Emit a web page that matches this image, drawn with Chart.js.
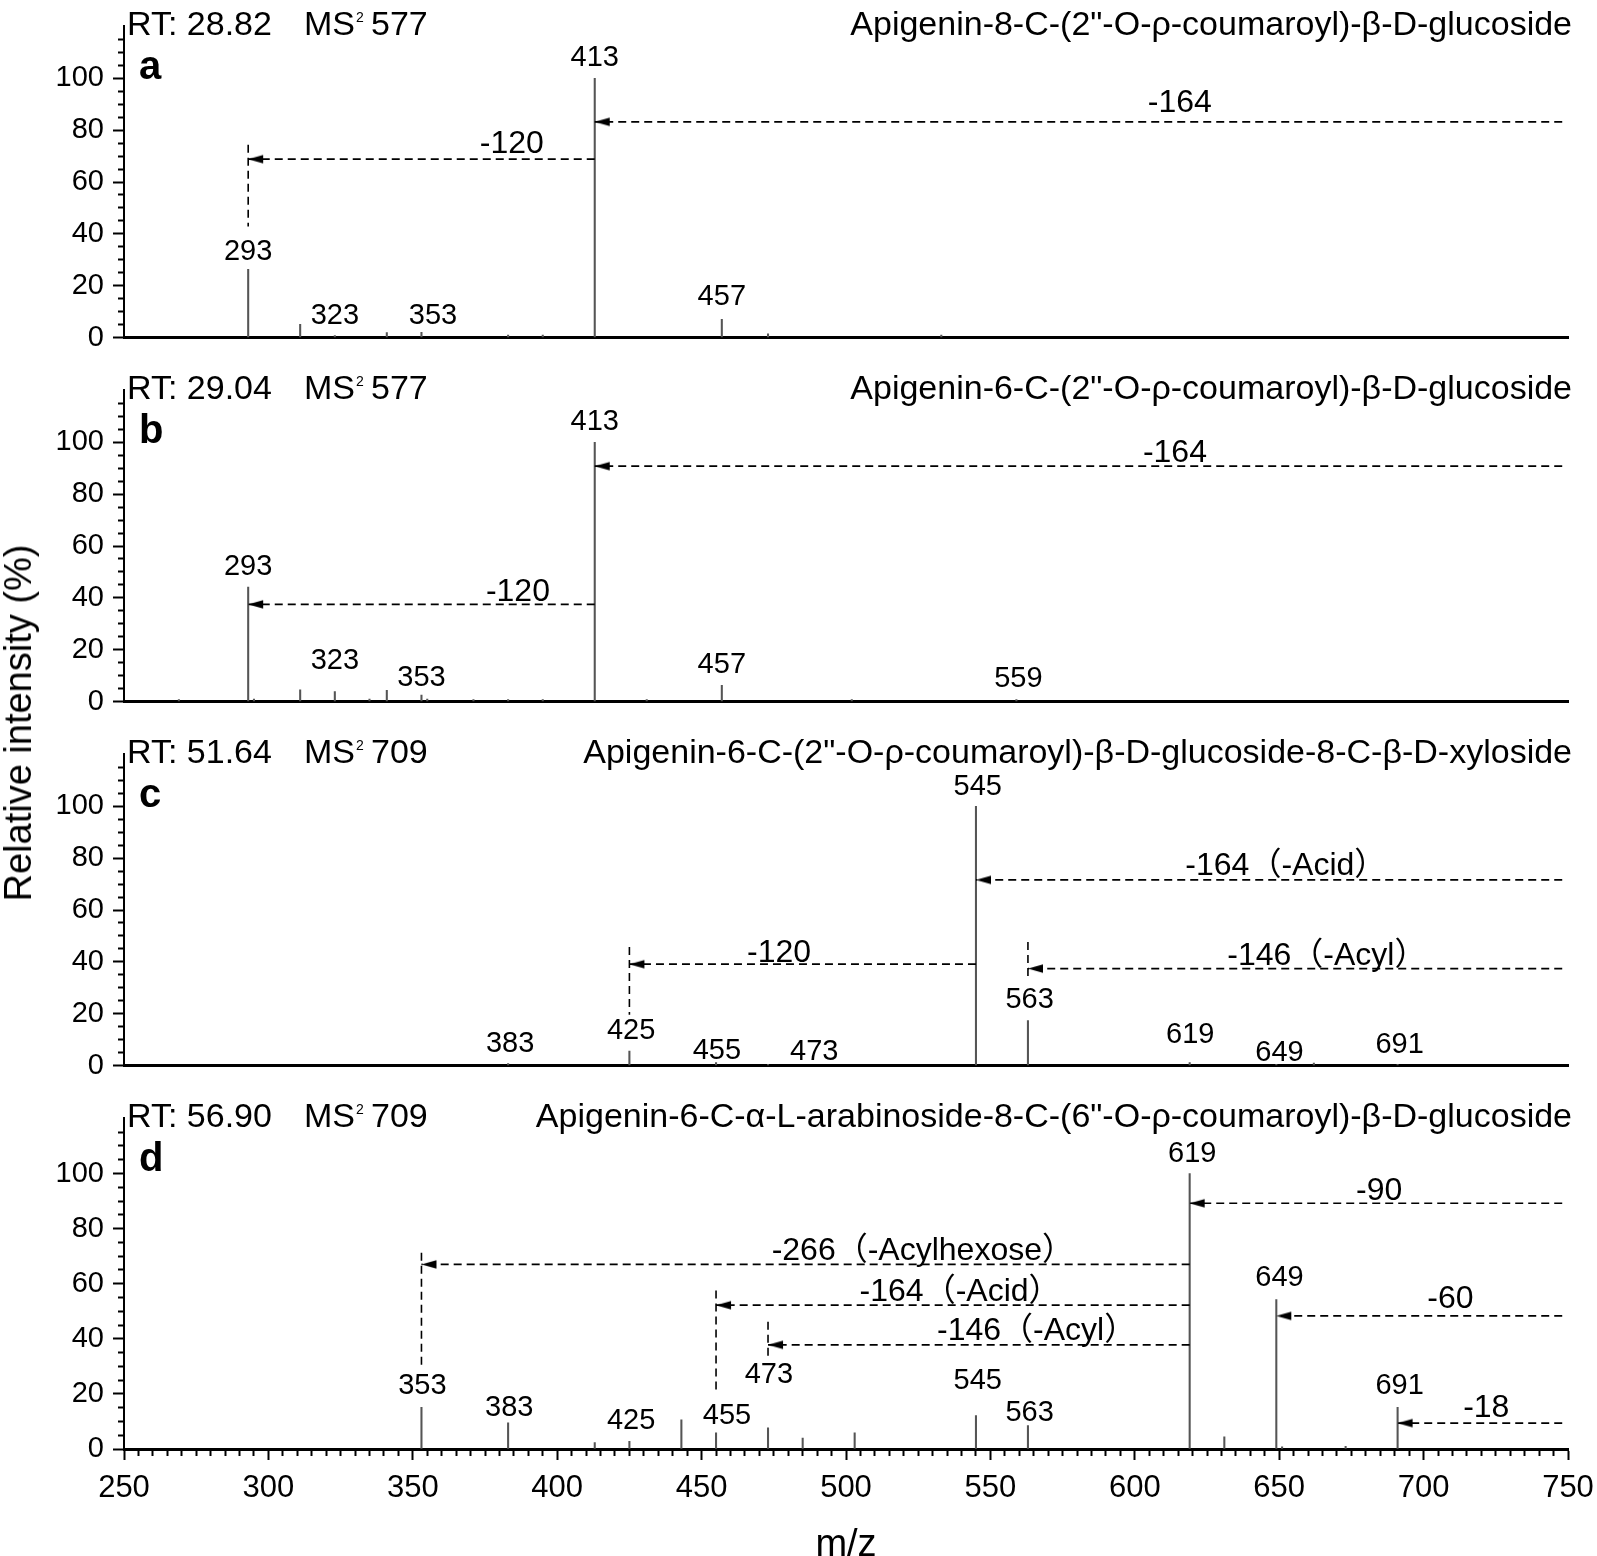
<!DOCTYPE html>
<html><head><meta charset="utf-8">
<script src="https://cdn.jsdelivr.net/npm/chart.js@4.4.1/dist/chart.umd.min.js"></script>
<style>
html,body{margin:0;padding:0;background:#fff;}
#wrap{position:relative;width:1597px;height:1556px;overflow:hidden;background:#fff;}
#wrap canvas{position:absolute;left:0;}
#ytitle{position:absolute;left:18px;top:723px;transform:translate(-50%,-50%) rotate(-90deg);font:38px "Liberation Sans",Arial,sans-serif;white-space:nowrap;line-height:1;color:#000;}
</style></head><body>
<div id="wrap">
<canvas id="pa" width="1597" height="364" style="top:0px"></canvas>
<canvas id="pb" width="1597" height="364" style="top:364px"></canvas>
<canvas id="pc" width="1597" height="364" style="top:728px"></canvas>
<canvas id="pd" width="1597" height="464" style="top:1092px"></canvas>
<div id="ytitle">Relative intensity (%)</div>
</div>
<script>
// ---------- shared texts / ticks ----------
const xTickValues = [250,300,350,400,450,500,550,600,650,700,750];
const yTickValues = [0,20,40,60,80,100];
const panelLetters = ['a','b','c','d'];
const retentionTimes = ['28.82','29.04','51.64','56.90'];
const precursorIons = ['577','577','709','709'];
const compoundNames = [
  'Apigenin-8-C-(2"-O-ρ-coumaroyl)-β-D-glucoside',
  'Apigenin-6-C-(2"-O-ρ-coumaroyl)-β-D-glucoside',
  'Apigenin-6-C-(2"-O-ρ-coumaroyl)-β-D-glucoside-8-C-β-D-xyloside',
  'Apigenin-6-C-α-L-arabinoside-8-C-(6"-O-ρ-coumaroyl)-β-D-glucoside'
];
const xAxisTitle = 'm/z';

// ---------- panel a ----------
const mzA  = [293, 311, 323, 341, 353, 383, 395, 413, 457, 473, 533];
const intA = [26.3, 5.1, 0.8, 1.9, 2.0, 1.0, 1.0, 100, 7.0, 1.5, 1.0];
const peakTextA = ['413','293','323','353','457'];
const peakTextMzA = [413, 293, 323, 357, 457];
const peakTextIntA = [104.8, 29.9, 5.4, 5.4, 12.6];
const lossTextA = ['-164','-120'];
const lossFromA = [748, 413];
const lossToA = [413, 293];
const lossLevelA = [83.2, 68.8];
const lossTextMzA = [615.6, 384.3];
const lossTextIntA = [86.8, 71.3];
const guideMzA = [293];
const guideLowA = [42.8];
const guideHighA = [74.4];

// ---------- panel b ----------
const mzB  = [269, 293, 295, 311, 323, 335, 341, 353, 355, 371, 383, 395, 413, 431, 457, 502, 559];
const intB = [0.8, 44.2, 1.0, 4.5, 3.9, 1.0, 4.3, 2.5, 1.0, 0.8, 0.8, 0.8, 100, 0.8, 6.3, 0.8, 0.8];
const peakTextB = ['413','293','323','353','457','559'];
const peakTextMzB = [413, 293, 323, 353, 457, 559.7];
const peakTextIntB = [104.8, 49.0, 12.5, 5.9, 11.0, 5.7];
const lossTextB = ['-164','-120'];
const lossFromB = [748, 413];
const lossToB = [413, 293];
const lossLevelB = [90.8, 37.5];
const lossTextMzB = [613.9, 386.4];
const lossTextIntB = [92.3, 38.9];
const guideMzB = [];
const guideLowB = [];
const guideHighB = [];

// ---------- panel c ----------
const mzC  = [383, 425, 455, 473, 545, 563, 619, 649, 662, 691];
const intC = [0.8, 5.6, 1.2, 0.5, 100, 17.4, 1.2, 0.5, 1.0, 0.5];
const peakTextC = ['545','563','619','649','691','473','455','425','383'];
const peakTextMzC = [545.6, 563.6, 619.2, 650.1, 691.7, 489, 455.3, 425.6, 383.7];
const peakTextIntC = [104.5, 22.2, 8.9, 1.8, 4.7, 2.0, 2.4, 10.1, 5.3];
const lossTextC = ['-164（-Acid）','-146（-Acyl）','-120'];
const lossFromC = [748, 748, 545];
const lossToC = [545, 563, 425];
const lossLevelC = [71.6, 37.4, 39.1];
const lossTextMzC = [652.3, 666.5, 476.8];
const lossTextIntC = [73.6, 38.6, 39.9];
const guideMzC = [425, 563];
const guideLowC = [19.6, 32.6];
const guideHighC = [45.7, 47.7];

// ---------- panel d ----------
const mzD  = [353, 383, 413, 425, 443, 455, 473, 485, 503, 545, 563, 619, 631, 649, 651, 673, 691];
const intD = [15.1, 9.5, 2.3, 2.8, 10.6, 5.9, 7.7, 4.0, 5.9, 12.1, 8.5, 100, 4.4, 54.2, 0.8, 1.0, 15.1];
const peakTextD = ['619','649','691','545','563','353','383','425','455','473'];
const peakTextMzD = [619.9, 650.1, 691.7, 545.6, 563.6, 353.3, 383.4, 425.6, 458.8, 473.3];
const peakTextIntD = [104.1, 59.0, 19.8, 21.6, 10.3, 20.1, 12.1, 7.4, 9.2, 24.0];
const lossTextD = ['-90','-266（-Acylhexose）','-164（-Acid）','-146（-Acyl）','-60','-18'];
const lossFromD = [748, 619, 619, 619, 748, 748];
const lossToD = [619, 353, 455, 473, 649, 691];
const lossLevelD = [89.2, 67.0, 52.2, 37.8, 48.3, 9.4];
const lossTextMzD = [684.6, 526.6, 539.5, 566.0, 709.3, 721.7];
const lossTextIntD = [90.5, 68.5, 53.7, 39.4, 51.3, 11.5];
const guideMzD = [353, 455, 473];
const guideLowD = [29.9, 21.0, 33.5];
const guideHighD = [71.2, 57.5, 46.2];

// ---------- styling / drawing ----------
const FONT = '"Liberation Sans", Arial, "Noto Sans CJK SC", sans-serif';
Chart.defaults.font.family = FONT;
Chart.defaults.color = '#000';

const arrowHead = (() => {
  const c = document.createElement('canvas');
  c.width = 34; c.height = 11;
  const g = c.getContext('2d');
  g.fillStyle = '#000';
  g.beginPath(); g.moveTo(17, 5.5); g.lineTo(32, 1.2); g.lineTo(32, 9.8); g.closePath(); g.fill();
  return c;
})();

const panelTextPlugin = {
  id: 'panelText',
  afterDatasetsDraw(chart, args, o) {
    const {ctx, chartArea: ca, scales: {x, y}} = chart;
    ctx.save();
    ctx.fillStyle = '#000';
    ctx.textBaseline = 'alphabetic';
    ctx.textAlign = 'center';
    ctx.font = '29px ' + FONT;
    o.peaks.forEach(p => ctx.fillText(p.text, x.getPixelForValue(p.x), y.getPixelForValue(p.y)));
    ctx.font = '32px ' + FONT;
    o.losses.forEach(p => ctx.fillText(p.text, x.getPixelForValue(p.x), y.getPixelForValue(p.y)));
    const base = ca.top + 9;
    ctx.textAlign = 'left';
    ctx.font = '34px ' + FONT;
    ctx.fillText('RT: ' + o.rt, ca.left + 3, base);
    ctx.fillText('MS', ca.left + 180, base);
    const msW = ctx.measureText('MS').width;
    ctx.font = '14px ' + FONT;
    ctx.fillText('2', ca.left + 180 + msW + 1, base - 13);
    ctx.font = '34px ' + FONT;
    ctx.fillText(o.precursor, ca.left + 247, base);
    ctx.textAlign = 'right';
    ctx.fillText(o.compound, ca.right + 4, base);
    ctx.textAlign = 'left';
    ctx.font = 'bold 40px ' + FONT;
    ctx.fillText(o.letter, ca.left + 15, ca.top + 53);
    ctx.restore();
  }
};

function buildPanel(id, idx, mz, inten, pText, pMz, pInt, lText, lFrom, lTo, lLevel, lMz, lInt, gMz, gLow, gHigh, isLast) {
  const datasets = [{
    type: 'bar',
    data: mz.map((m, i) => ({x: m, y: inten[i]})),
    backgroundColor: '#555',
    borderWidth: 0,
    barThickness: 1.4,
    order: 2
  }];
  lFrom.forEach((f, i) => datasets.push({
    type: 'line',
    data: [{x: f, y: lLevel[i]}, {x: lTo[i], y: lLevel[i]}],
    borderColor: '#000', borderWidth: 1.7, borderDash: [8, 5],
    pointRadius: [0, 6], pointStyle: arrowHead, pointHoverRadius: 0,
    fill: false, tension: 0, order: 1
  }));
  gMz.forEach((g, i) => datasets.push({
    type: 'line',
    data: [{x: g, y: gHigh[i]}, {x: g, y: gLow[i]}],
    borderColor: '#000', borderWidth: 1.6, borderDash: [8, 5],
    pointRadius: 0, fill: false, tension: 0, order: 1
  }));

  const xScale = {
    type: 'linear', min: xTickValues[0], max: xTickValues[xTickValues.length - 1],
    offset: false,
    border: {display: true, width: 3, color: '#000'},
    afterFit(s) { s.height = isLast ? 107 : 7; s.paddingLeft = 0; s.paddingRight = 0; }
  };
  if (isLast) {
    Object.assign(xScale, {
      ticks: {stepSize: 5, autoSkip: false, maxRotation: 0, minRotation: 0, padding: 10,
        font: {size: 31}, color: '#000',
        callback: v => xTickValues.includes(v) ? String(v) : ''},
      grid: {display: true, offset: false, drawOnChartArea: false, drawTicks: true, tickLength: 11, tickWidth: 2,
        tickColor: '#000',
        tickBorderDash: c => (c.tick && xTickValues.includes(c.tick.value)) ? [] : [5, 40]},
      title: {display: true, text: xAxisTitle, font: {size: 38, lineHeight: 1}, padding: {top: 0, bottom: -9}, color: '#000'}
    });
  } else {
    Object.assign(xScale, {ticks: {display: false}, grid: {display: false, offset: false}});
  }

  return new Chart(document.getElementById(id), {
    type: 'bar',
    data: {datasets},
    plugins: [panelTextPlugin],
    options: {
      responsive: false, animation: false, events: [],
      layout: {padding: {top: 20, left: 0, right: 29, bottom: 0}},
      plugins: {
        legend: {display: false}, tooltip: {enabled: false},
        panelText: {
          peaks: pText.map((t, i) => ({text: t, x: pMz[i], y: pInt[i]})),
          losses: lText.map((t, i) => ({text: t, x: lMz[i], y: lInt[i]})),
          rt: retentionTimes[idx], precursor: precursorIons[idx],
          compound: compoundNames[idx], letter: panelLetters[idx]
        }
      },
      scales: {
        x: xScale,
        y: {
          type: 'linear', min: 0, max: 120,
          afterFit(s) { s.width = 124; },
          ticks: {stepSize: 5, autoSkip: false, padding: 9, font: {size: 29}, color: '#000',
            callback: v => yTickValues.includes(v) ? String(v) : ''},
          grid: {display: true, drawOnChartArea: false, drawTicks: true, tickLength: 11, tickWidth: 2,
            tickColor: c => (c.tick && c.tick.value > 115) ? 'rgba(0,0,0,0)' : '#000',
            tickBorderDash: c => (c.tick && c.tick.value % 20 === 0) ? [] : [0, 5, 6, 40]},
          border: {display: true, width: 2, color: '#000'}
        }
      }
    }
  });
}

buildPanel('pa', 0, mzA, intA, peakTextA, peakTextMzA, peakTextIntA, lossTextA, lossFromA, lossToA, lossLevelA, lossTextMzA, lossTextIntA, guideMzA, guideLowA, guideHighA, false);
buildPanel('pb', 1, mzB, intB, peakTextB, peakTextMzB, peakTextIntB, lossTextB, lossFromB, lossToB, lossLevelB, lossTextMzB, lossTextIntB, guideMzB, guideLowB, guideHighB, false);
buildPanel('pc', 2, mzC, intC, peakTextC, peakTextMzC, peakTextIntC, lossTextC, lossFromC, lossToC, lossLevelC, lossTextMzC, lossTextIntC, guideMzC, guideLowC, guideHighC, false);
buildPanel('pd', 3, mzD, intD, peakTextD, peakTextMzD, peakTextIntD, lossTextD, lossFromD, lossToD, lossLevelD, lossTextMzD, lossTextIntD, guideMzD, guideLowD, guideHighD, true);
</script>
</body></html>
